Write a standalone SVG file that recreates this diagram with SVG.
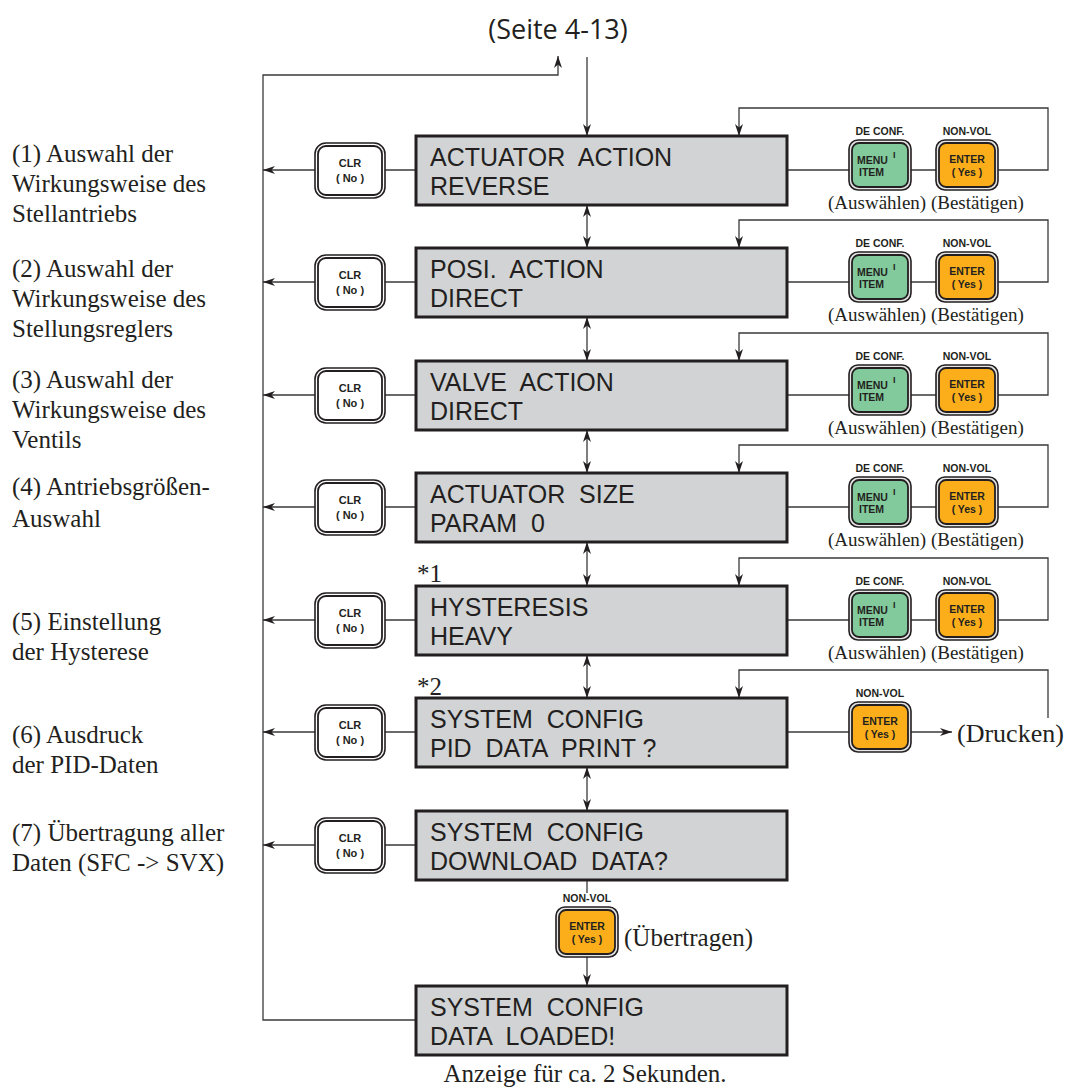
<svg xmlns="http://www.w3.org/2000/svg" width="1067" height="1091" viewBox="0 0 1067 1091">
<style>
.ln{fill:none;stroke:#3a3a3a;stroke-width:1.3}
.box{fill:#d1d3d4;stroke:#231f20;stroke-width:3}
.bt{font-family:"Liberation Sans",Arial,sans-serif;font-size:25px;fill:#231f20;white-space:pre}
.lbl{font-family:"Liberation Serif","Times New Roman",serif;font-size:25px;fill:#231f20}
.sub{font-family:"Liberation Serif","Times New Roman",serif;font-size:19px;fill:#231f20;white-space:pre}
.kt{font-family:"Liberation Sans",Arial,sans-serif;font-size:10.5px;font-weight:bold;fill:#231f20}
.kc{text-anchor:middle}
.o{fill:#e6e6e6;stroke:#231f20;stroke-width:1.6}
.ow{fill:#ffffff;stroke:#231f20;stroke-width:1.6}
.ig{fill:#82c99c;stroke:#231f20;stroke-width:1.8}
.io{fill:#fbae19;stroke:#231f20;stroke-width:1.8}
.iw{fill:#ffffff;stroke:#231f20;stroke-width:1.8}
</style>
<defs>
<marker id="ah" viewBox="0 0 12 8" refX="12" refY="4" markerWidth="12" markerHeight="8" markerUnits="userSpaceOnUse" orient="auto-start-reverse">
<path d="M0,0 L12,4 L0,8 L3.5,4 z" fill="#231f20"/>
</marker>
<symbol id="clr" overflow="visible">
<rect class="ow" x="0" y="0" width="70" height="55" rx="11"/>
<rect class="iw" x="3" y="3" width="64" height="49" rx="8"/>
<text class="kt kc" x="35" y="24" style="font-size:11px">CLR</text>
<text class="kt kc" x="35" y="39" style="font-size:11px" xml:space="preserve">( No )</text>
</symbol>
<symbol id="menu" overflow="visible">
<rect class="o" x="0" y="0" width="62" height="50" rx="9"/>
<rect class="ig" x="3" y="3" width="56" height="44" rx="7"/>
<text class="kt" x="8" y="24">MENU</text>
<text class="kt" x="10" y="36">ITEM</text>
<text class="kt" x="44" y="18" style="font-size:9px">I</text>
<text class="kt kc" x="31" y="-5">DE CONF.</text>
</symbol>
<symbol id="enter" overflow="visible">
<rect class="o" x="0" y="0" width="62" height="50" rx="9"/>
<rect class="io" x="3" y="3" width="56" height="44" rx="7"/>
<text class="kt kc" x="31" y="23">ENTER</text>
<text class="kt kc" x="31" y="36" xml:space="preserve">( Yes )</text>
<text class="kt kc" x="31" y="-5">NON-VOL</text>
</symbol>
</defs>
<rect width="1067" height="1091" fill="#ffffff"/>

<text x="558" y="39" text-anchor="middle" style="font-family:'Open Sans','Noto Sans',sans-serif;font-size:27px;fill:#231f20">(Seite 4-13)</text>

<g id="connectors">
<path class="ln" d="M416,1020 H263 V75 H558 V56" marker-end="url(#ah)"/>
<path class="ln" d="M587,57 V136" marker-end="url(#ah)"/>
<path class="ln" d="M587,205 V248" marker-start="url(#ah)" marker-end="url(#ah)"/>
<path class="ln" d="M587,317 V361" marker-start="url(#ah)" marker-end="url(#ah)"/>
<path class="ln" d="M587,430 V473" marker-start="url(#ah)" marker-end="url(#ah)"/>
<path class="ln" d="M587,542 V586" marker-start="url(#ah)" marker-end="url(#ah)"/>
<path class="ln" d="M587,655 V698" marker-start="url(#ah)" marker-end="url(#ah)"/>
<path class="ln" d="M587,767 V811" marker-start="url(#ah)" marker-end="url(#ah)"/>
<path class="ln" d="M587,880 V893"/>
<path class="ln" d="M587,957 V986" marker-end="url(#ah)"/>
<path class="ln" d="M416,170 H385 M315,170 H263" marker-end="url(#ah)"/>
<path class="ln" d="M416,282 H385 M315,282 H263" marker-end="url(#ah)"/>
<path class="ln" d="M416,395 H385 M315,395 H263" marker-end="url(#ah)"/>
<path class="ln" d="M416,507 H385 M315,507 H263" marker-end="url(#ah)"/>
<path class="ln" d="M416,620 H385 M315,620 H263" marker-end="url(#ah)"/>
<path class="ln" d="M416,732 H385 M315,732 H263" marker-end="url(#ah)"/>
<path class="ln" d="M416,845 H385 M315,845 H263" marker-end="url(#ah)"/>
<path class="ln" d="M787,170 H849 M911,170 H936 M998,170 H1048 V108 H739 V136" marker-end="url(#ah)"/>
<path class="ln" d="M787,282 H849 M911,282 H936 M998,282 H1048 V220 H739 V248" marker-end="url(#ah)"/>
<path class="ln" d="M787,395 H849 M911,395 H936 M998,395 H1048 V333 H739 V361" marker-end="url(#ah)"/>
<path class="ln" d="M787,507 H849 M911,507 H936 M998,507 H1048 V445 H739 V473" marker-end="url(#ah)"/>
<path class="ln" d="M787,620 H849 M911,620 H936 M998,620 H1048 V558 H739 V586" marker-end="url(#ah)"/>
<path class="ln" d="M787,732 H849"/>
<path class="ln" d="M911,732 H952" marker-end="url(#ah)"/>
<path class="ln" d="M1048,718 V670 H739 V698" marker-end="url(#ah)"/>
</g>

<g id="labels-left">
<text class="lbl" x="12" y="162">(1) Auswahl der</text>
<text class="lbl" x="12" y="192">Wirkungsweise des</text>
<text class="lbl" x="12" y="222">Stellantriebs</text>
<text class="lbl" x="12" y="277">(2) Auswahl der</text>
<text class="lbl" x="12" y="307">Wirkungsweise des</text>
<text class="lbl" x="12" y="337">Stellungsreglers</text>
<text class="lbl" x="12" y="388">(3) Auswahl der</text>
<text class="lbl" x="12" y="418">Wirkungsweise des</text>
<text class="lbl" x="12" y="448">Ventils</text>
<text class="lbl" x="12" y="495">(4) Antriebsgrößen-</text>
<text class="lbl" x="12" y="527">Auswahl</text>
<text class="lbl" x="12" y="630">(5) Einstellung</text>
<text class="lbl" x="12" y="660">der Hysterese</text>
<text class="lbl" x="12" y="743">(6) Ausdruck</text>
<text class="lbl" x="12" y="773">der PID-Daten</text>
<text class="lbl" x="12" y="841">(7) Übertragung aller</text>
<text class="lbl" x="12" y="871">Daten (SFC -&gt; SVX)</text>
</g>

<g id="node1">
<rect class="box" x="416" y="136" width="371" height="69"/>
<text class="bt" x="430" y="166" xml:space="preserve">ACTUATOR  ACTION</text>
<text class="bt" x="430" y="195">REVERSE</text>
</g>
<g id="node2">
<rect class="box" x="416" y="248" width="371" height="69"/>
<text class="bt" x="430" y="278" xml:space="preserve">POSI.  ACTION</text>
<text class="bt" x="430" y="307">DIRECT</text>
</g>
<g id="node3">
<rect class="box" x="416" y="361" width="371" height="69"/>
<text class="bt" x="430" y="391" xml:space="preserve">VALVE  ACTION</text>
<text class="bt" x="430" y="420">DIRECT</text>
</g>
<g id="node4">
<rect class="box" x="416" y="473" width="371" height="69"/>
<text class="bt" x="430" y="503" xml:space="preserve">ACTUATOR  SIZE</text>
<text class="bt" x="430" y="532" xml:space="preserve">PARAM  0</text>
</g>
<g id="node5">
<text class="lbl" x="417" y="582">*1</text>
<rect class="box" x="416" y="586" width="371" height="69"/>
<text class="bt" x="430" y="616">HYSTERESIS</text>
<text class="bt" x="430" y="645">HEAVY</text>
</g>
<g id="node6">
<text class="lbl" x="417" y="695">*2</text>
<rect class="box" x="416" y="698" width="371" height="69"/>
<text class="bt" x="430" y="728" xml:space="preserve">SYSTEM  CONFIG</text>
<text class="bt" x="430" y="757" xml:space="preserve">PID  DATA  PRINT ?</text>
</g>
<g id="node7">
<rect class="box" x="416" y="811" width="371" height="69"/>
<text class="bt" x="430" y="841" xml:space="preserve">SYSTEM  CONFIG</text>
<text class="bt" x="430" y="870" xml:space="preserve">DOWNLOAD  DATA?</text>
</g>
<g id="node8">
<rect class="box" x="416" y="986" width="371" height="69"/>
<text class="bt" x="430" y="1016" xml:space="preserve">SYSTEM  CONFIG</text>
<text class="bt" x="430" y="1045" xml:space="preserve">DATA  LOADED!</text>
</g>

<g id="clr-keys">
<use href="#clr" x="315" y="143"/>
<use href="#clr" x="315" y="255"/>
<use href="#clr" x="315" y="368"/>
<use href="#clr" x="315" y="480"/>
<use href="#clr" x="315" y="593"/>
<use href="#clr" x="315" y="705"/>
<use href="#clr" x="315" y="818"/>
</g>

<g id="menu-keys">
<use href="#menu" x="849" y="140"/>
<use href="#menu" x="849" y="252"/>
<use href="#menu" x="849" y="365"/>
<use href="#menu" x="849" y="477"/>
<use href="#menu" x="849" y="590"/>
</g>
<g id="enter-keys">
<use href="#enter" x="936" y="140"/>
<use href="#enter" x="936" y="252"/>
<use href="#enter" x="936" y="365"/>
<use href="#enter" x="936" y="477"/>
<use href="#enter" x="936" y="590"/>
<use href="#enter" x="849" y="702"/>
<use href="#enter" x="556" y="907"/>
</g>

<g id="key-labels">
<text class="sub" x="828" y="209">(Auswählen) (Bestätigen)</text>
<text class="sub" x="828" y="321">(Auswählen) (Bestätigen)</text>
<text class="sub" x="828" y="434">(Auswählen) (Bestätigen)</text>
<text class="sub" x="828" y="546">(Auswählen) (Bestätigen)</text>
<text class="sub" x="828" y="659">(Auswählen) (Bestätigen)</text>
<text class="lbl" x="957" y="742" style="font-size:26px">(Drucken)</text>
<text class="lbl" x="624" y="946">(Übertragen)</text>
<text class="lbl" x="585" y="1082" text-anchor="middle">Anzeige für ca. 2 Sekunden.</text>
</g>
</svg>
